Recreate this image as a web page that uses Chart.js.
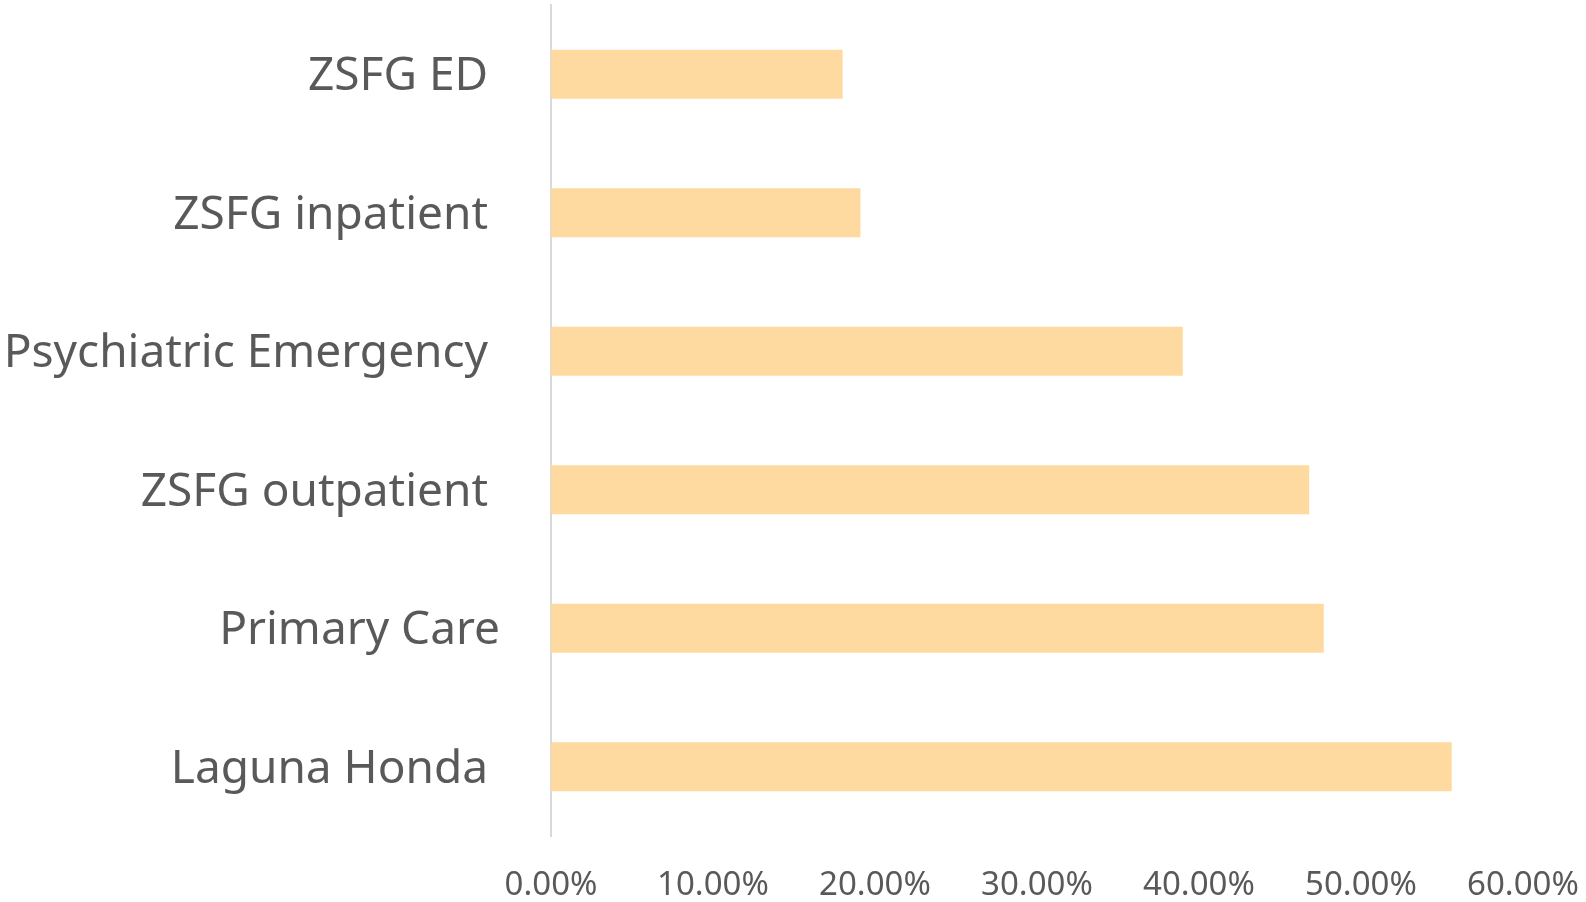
<!DOCTYPE html>
<html>
<head>
<meta charset="utf-8">
<script src="https://cdn.jsdelivr.net/npm/chart.js@4/dist/chart.umd.min.js"></script>
<style>
  html, body { margin:0; padding:0; background:#fff; }
  #wrap { width:1586px; height:902px; }
</style>
</head>
<body>
<div id="wrap"><canvas id="chart" width="1586" height="902"></canvas></div>
<script>
// categories (top to bottom) and their shares in percent
const sites = ['ZSFG ED ', 'ZSFG inpatient ', 'Psychiatric Emergency ', 'ZSFG outpatient ', 'Primary Care', 'Laguna Honda '];
const shares = [18.0, 19.1, 39.0, 46.8, 47.7, 55.6];
const xTicks = [0, 10, 20, 30, 40, 50, 60];

const textColor = '#595959';
const fontFamily = '"Noto Sans", "Open Sans", sans-serif';

new Chart(document.getElementById('chart').getContext('2d'), {
  type: 'bar',
  data: {
    labels: sites,
    datasets: [{
      data: shares,
      backgroundColor: '#fed9a0',
      borderWidth: 0,
      categoryPercentage: 0.354,
      barPercentage: 1
    }]
  },
  options: {
    indexAxis: 'y',
    responsive: false,
    animation: false,
    layout: { padding: { top: 5, right: 63, left: 0, bottom: 0 } },
    plugins: { legend: { display: false }, tooltip: { enabled: false } },
    scales: {
      x: {
        min: xTicks[0],
        max: xTicks[xTicks.length - 1],
        afterBuildTicks: s => { s.ticks = xTicks.map(v => ({ value: v })); },
        afterFit: s => { s.height = 66; s.paddingLeft = 0; s.paddingRight = 0; },
        grid: { display: false, drawTicks: false },
        border: { display: false },
        ticks: {
          padding: 30,
          color: textColor,
          font: { family: fontFamily, size: 33 },
          callback: v => Number(v).toFixed(2) + '%'
        }
      },
      y: {
        afterFit: s => { s.width = 551; s.paddingTop = 0; s.paddingBottom = 0; },
        grid: { display: false, drawTicks: false },
        border: { display: true, color: '#d9d9d9', width: 2 },
        ticks: {
          padding: 51,
          labelOffset: 3,
          color: textColor,
          font: { family: fontFamily, size: 46 }
        }
      }
    }
  }
});
</script>
</body>
</html>
